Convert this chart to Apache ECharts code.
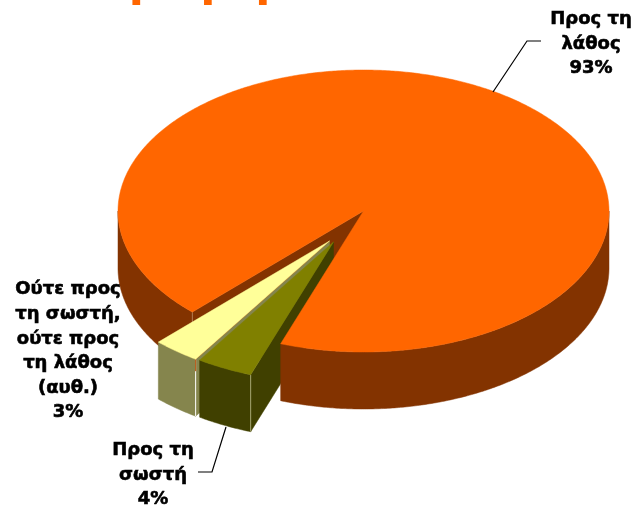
<!DOCTYPE html>
<html><head><meta charset="utf-8">
<style>html,body{margin:0;padding:0;background:#fff}#c{width:634px;height:506px}</style>
<script src="https://cdn.jsdelivr.net/npm/echarts@6/dist/echarts.min.js"></script>
</head><body><div id="c"></div>
<script>
const titleText = "Προφορά";
const categories = ["Προς τη\nλάθος", "Προς τη\nσωστή", "Ούτε προς\nτη σωστή,\nούτε προς\nτη λάθος\n(αυθ.)"];
const shownPercent = ["93%", "4%", "3%"];
const values = [93.2, 3.7, 3.1];

const topColors = ["#FF6600", "#808000", "#FFFF99"];
const sideColors = ["#833300", "#404000", "#85854D"];

const CX = 363.5, CY = 211, RX = 245.5, RY = 141, DEPTH = 57, START = 224.2;
const layout = [
  {dx: 0, dy: 0, z: 1, zFront: 8, zTop: 9, edge: "#B07A50", lx: 591, ly: 7, leader: [[493,92],[527,41],[541,41]]},
  {dx: -30, dy: 31, z: 5, zFront: 5, zTop: 6, edge: "#A5A570", lx: 153, ly: 438, leader: [[226,427],[212,472],[198,472]]},
  {dx: -34, dy: 30, z: 2, zFront: 2, zTop: 3, edge: "#FFFFFF", topEdge: "#B04A00", lx: 68, ly: 277.5, leader: null}
];
const total = values.reduce((a, b) => a + b, 0);
const angles = []; let acc = START;
values.forEach(v => { const s = v / total * 360; angles.push([acc, acc + s]); acc += s; });

function pt(a, dx, dy, down) {
  const r = a * Math.PI / 180;
  return [CX + dx + RX * Math.sin(r), CY + dy - RY * Math.cos(r) + (down ? DEPTH : 0)];
}
function arc(a0, a1, dx, dy, down) {
  const out = [], n = Math.max(2, Math.ceil(Math.abs(a1 - a0) * 2));
  for (let i = 0; i <= n; i++) out.push(pt(a0 + (a1 - a0) * i / n, dx, dy, down));
  return out;
}
function poly(points, fill, z2) {
  return {type: 'polygon', z2, shape: {points}, style: {fill, stroke: fill, lineWidth: 0.5}, silent: true};
}
function seg(points, stroke, z2) {
  return {type: 'polyline', z2, silent: true, shape: {points}, style: {stroke, fill: null, lineWidth: 1}};
}
function renderItem(params) {
  const i = params.dataIndex, L = layout[i], [a0, a1] = angles[i], dx = L.dx, dy = L.dy;
  const side = sideColors[i], top = topColors[i], kids = [];
  const apex = [CX + dx, CY + dy], apexD = [apex[0], apex[1] + DEPTH];
  // outer wall, only where it faces the viewer
  [[90, 270], [450, 630]].forEach(w => {
    const s = Math.max(a0, w[0]), e = Math.min(a1, w[1]);
    if (s < e) {
      const up = arc(s, e, dx, dy, false), dn = arc(s, e, dx, dy, true).reverse();
      const z = (s < 300 && i === 0) ? L.z : L.zFront;
      kids.push(poly(up.concat(dn), side, z));
    }
  });
  // cut walls that face the viewer
  const s0 = a0 % 360;
  if (s0 > 180 && s0 < 360) {
    const p = pt(a0, dx, dy, false), q = pt(a0, dx, dy, true);
    kids.push(poly([apex, p, q, apexD], side, L.z));
    kids.push(seg([p, q], L.edge, L.z));
    if (L.topEdge) kids.push(seg([apex, p, [p[0], p[1] + 12]], L.topEdge, L.zTop));
  }
  kids.push(poly([apex].concat(arc(a0, a1, dx, dy, false)), top, L.zTop));
  kids.push({type: 'text', z2: 20, silent: true, style: {
    x: L.lx, y: L.ly, text: categories[i] + "\n" + shownPercent[i],
    font: "bold 18px 'DejaVu Sans'", fill: '#000', stroke: '#000', lineWidth: 0.6, align: 'center', verticalAlign: 'top', lineHeight: 24.6}});
  if (L.leader) kids.push({type: 'polyline', z2: 20, silent: true, shape: {points: L.leader},
    style: {stroke: '#000', fill: null, lineWidth: 1.2}});
  return {type: 'group', children: kids};
}
const chart = echarts.init(document.getElementById('c'), null, {renderer: 'canvas'});
chart.setOption({
  animation: false,
  backgroundColor: '#fff',
  title: {text: titleText, left: 87, top: -42, textStyle: {color: '#FF6600', fontFamily: 'DejaVu Sans', fontWeight: 'bold', fontSize: 44}},
  series: [{type: 'custom', coordinateSystem: 'none', silent: true, renderItem, data: values, clip: false}]
});
</script></body></html>
